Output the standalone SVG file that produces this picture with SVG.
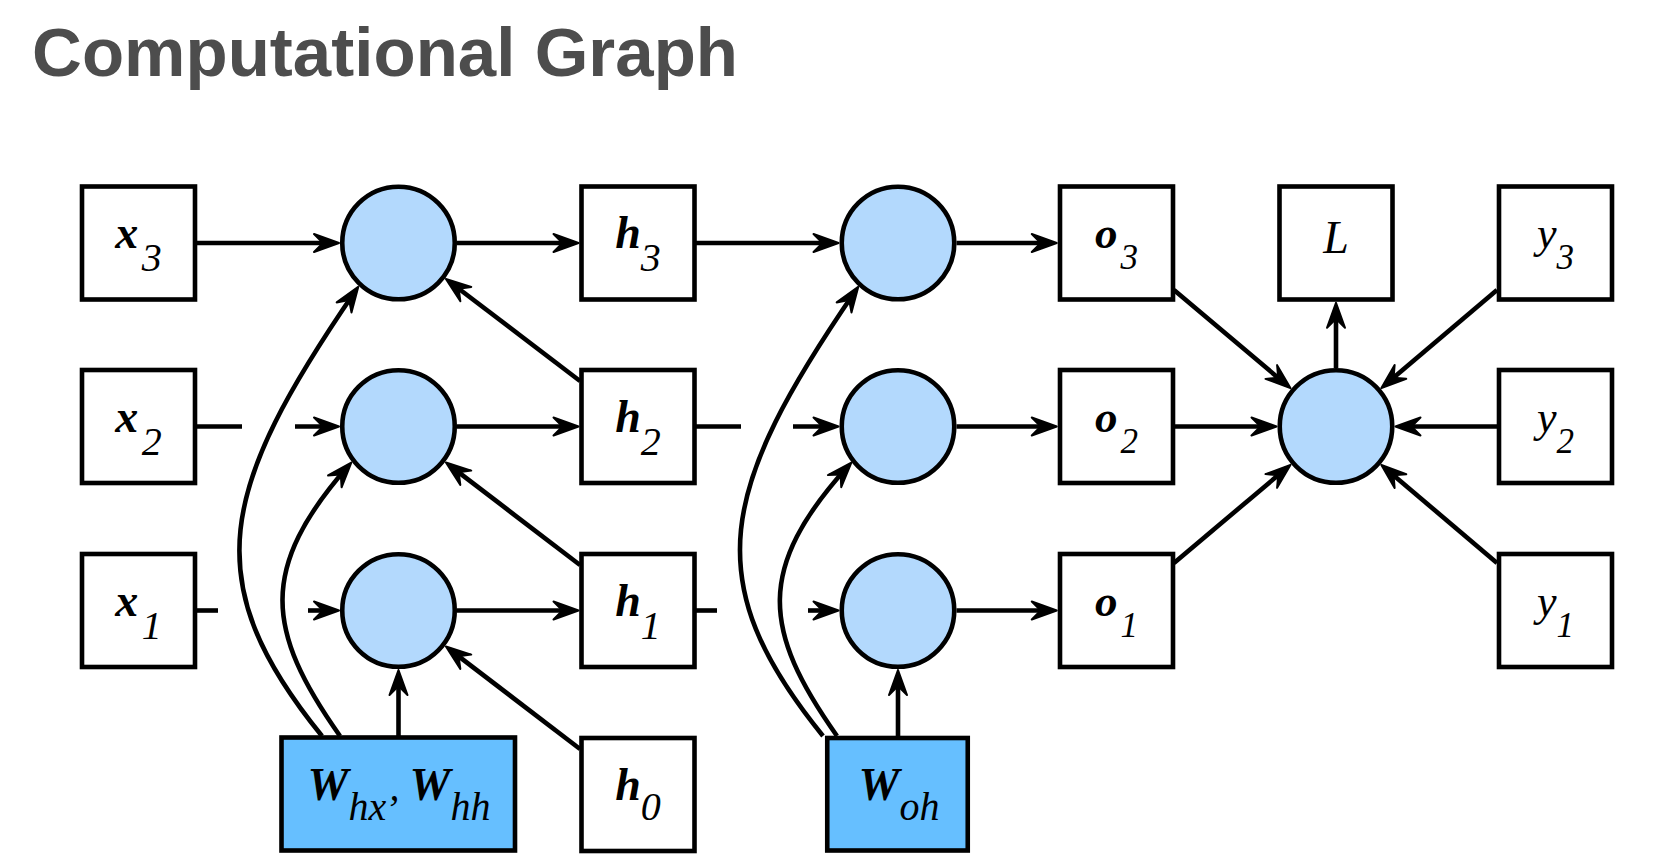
<svg xmlns="http://www.w3.org/2000/svg" width="1678" height="857" viewBox="0 0 1678 857">
<style>
.bg{fill:#ffffff}
.title{font-family:"Liberation Sans",Arial,sans-serif;font-weight:bold;font-size:69px;fill:#4d4d4d}
.box{fill:#ffffff;stroke:#000000;stroke-width:4.6}
.param{fill:#66bfff;stroke:#000000;stroke-width:4.6}
.op{fill:#b3d9fd;stroke:#000000;stroke-width:4.6}
.edge{fill:none;stroke:#000000;stroke-width:4.6;marker-end:url(#ah)}
.seg{fill:none;stroke:#000000;stroke-width:4.6}
text.lbl{font-family:"Liberation Serif","Times New Roman",serif;text-anchor:middle;fill:#000000}
.v{font-weight:bold;font-style:italic;font-size:46px}
.vs{font-weight:bold;font-style:italic;font-size:45px}
.s{font-style:italic;font-size:40px}
.ss{font-style:italic;font-size:35px}
.it{font-style:italic;font-size:44px}
.L{font-style:italic;font-size:46px}
</style>
<defs>
<marker id="ah" markerUnits="userSpaceOnUse" viewBox="-25 -13 35 26" markerWidth="35" markerHeight="26" refX="0" refY="0" orient="auto" overflow="visible">
<path d="M5,0 L-20,-9 L-11,0 L-20,9 Z" fill="#000000" stroke="#000000" stroke-width="2" stroke-linejoin="round"/>
</marker>
</defs>
<rect class="bg" x="0" y="0" width="1678" height="857"/>
<text class="title" x="32" y="76" textLength="706">Computational Graph</text>

<g id="connectors">
<path class="edge" d="M196 243 H334"/>
<path class="seg" d="M196 426.5 H242"/>
<path class="edge" d="M295 426.5 H334"/>
<path class="seg" d="M196 610.5 H218"/>
<path class="edge" d="M308 610.5 H334"/>
<path class="edge" d="M457 243 H573.5"/>
<path class="edge" d="M457 426.5 H573.5"/>
<path class="edge" d="M457 610.5 H573.5"/>
<path class="edge" d="M580 381 L449.9 282"/>
<path class="edge" d="M580 565 L449.9 465.6"/>
<path class="edge" d="M580 749 L449.9 649.6"/>
<path class="edge" d="M398.5 737 V675"/>
<path class="edge" d="M340 736 C265 630 259 568 348 466.3"/>
<path class="edge" d="M322 736 C196 581 219.6 488.8 355.4 291"/>
<path class="edge" d="M696 243 H833.5"/>
<path class="seg" d="M696 426.5 H741"/>
<path class="edge" d="M793 426.5 H833.5"/>
<path class="seg" d="M696 610.5 H717"/>
<path class="edge" d="M808 610.5 H833.5"/>
<path class="edge" d="M898 737 V675"/>
<path class="edge" d="M837 736 C762 630 756 568 848 466.3"/>
<path class="edge" d="M823 736 C697 581 719.6 488.8 855.4 291"/>
<path class="edge" d="M956.5 243 H1051.75"/>
<path class="edge" d="M956.5 426.5 H1051.75"/>
<path class="edge" d="M956.5 610.5 H1051.75"/>
<path class="edge" d="M1174 290 L1286.6 384.9"/>
<path class="edge" d="M1175 426.5 H1271.5"/>
<path class="edge" d="M1174 563 L1286.6 468.1"/>
<path class="edge" d="M1497 290 L1385.2 384.8"/>
<path class="edge" d="M1497 426.5 H1400.5"/>
<path class="edge" d="M1497 563 L1385.2 468.2"/>
<path class="edge" d="M1336 368 V307.75"/>
</g>

<g id="x3"><rect class="box" x="82" y="186.5" width="113" height="113"/>
<text class="lbl" x="138.5" y="248"><tspan class="v">x</tspan><tspan class="s" dy="23">&#8202;3</tspan></text></g>
<g id="x2"><rect class="box" x="82" y="370" width="113" height="113"/>
<text class="lbl" x="138.5" y="431.5"><tspan class="v">x</tspan><tspan class="s" dy="23">&#8202;2</tspan></text></g>
<g id="x1"><rect class="box" x="82" y="554" width="113" height="113"/>
<text class="lbl" x="138.5" y="615.5"><tspan class="v">x</tspan><tspan class="s" dy="23">&#8202;1</tspan></text></g>

<g id="op3a"><circle class="op" cx="398.5" cy="243" r="56.25"/></g>
<g id="op2a"><circle class="op" cx="398.5" cy="426.5" r="56.25"/></g>
<g id="op1a"><circle class="op" cx="398.5" cy="610.5" r="56.25"/></g>

<g id="h3"><rect class="box" x="581.5" y="186.5" width="113" height="113"/>
<text class="lbl" x="638" y="248"><tspan class="v">h</tspan><tspan class="s" dy="23">3</tspan></text></g>
<g id="h2"><rect class="box" x="581.5" y="370" width="113" height="113"/>
<text class="lbl" x="638" y="431.5"><tspan class="v">h</tspan><tspan class="s" dy="23">2</tspan></text></g>
<g id="h1"><rect class="box" x="581.5" y="554" width="113" height="113"/>
<text class="lbl" x="638" y="615.5"><tspan class="v">h</tspan><tspan class="s" dy="23">1</tspan></text></g>
<g id="h0"><rect class="box" x="581.5" y="738" width="113" height="113"/>
<text class="lbl" x="638" y="800"><tspan class="v">h</tspan><tspan class="s" dy="20">0</tspan></text></g>

<g id="Whx"><rect class="param" x="281.5" y="737.5" width="233.5" height="113"/>
<text class="lbl" x="399" y="800"><tspan class="v">W</tspan><tspan class="s" dy="20">hx</tspan><tspan class="s" dy="-20">&#8202;,&#160;</tspan><tspan class="v">W</tspan><tspan class="s" dy="20">hh</tspan></text></g>

<g id="op3b"><circle class="op" cx="898" cy="243" r="56.25"/></g>
<g id="op2b"><circle class="op" cx="898" cy="426.5" r="56.25"/></g>
<g id="op1b"><circle class="op" cx="898" cy="610.5" r="56.25"/></g>

<g id="Woh"><rect class="param" x="827.25" y="738" width="140.5" height="112.5"/>
<text class="lbl" x="899" y="800"><tspan class="v">W</tspan><tspan class="s" dy="20">oh</tspan></text></g>

<g id="o3"><rect class="box" x="1060" y="186.5" width="113" height="113"/>
<text class="lbl" x="1116.5" y="248"><tspan class="vs">o</tspan><tspan class="ss" dy="21">&#8202;3</tspan></text></g>
<g id="o2"><rect class="box" x="1060" y="370" width="113" height="113"/>
<text class="lbl" x="1116.5" y="431.5"><tspan class="vs">o</tspan><tspan class="ss" dy="21">&#8202;2</tspan></text></g>
<g id="o1"><rect class="box" x="1060" y="554" width="113" height="113"/>
<text class="lbl" x="1116.5" y="615.5"><tspan class="vs">o</tspan><tspan class="ss" dy="21">&#8202;1</tspan></text></g>

<g id="L"><rect class="box" x="1279.5" y="186.5" width="113" height="113"/>
<text class="lbl L" x="1336" y="253">L</text></g>
<g id="loss"><circle class="op" cx="1336" cy="426.5" r="56.25"/></g>

<g id="y3"><rect class="box" x="1499" y="186.5" width="113" height="113"/>
<text class="lbl" x="1555.5" y="248"><tspan class="it">y</tspan><tspan class="ss" dy="21">3</tspan></text></g>
<g id="y2"><rect class="box" x="1499" y="370" width="113" height="113"/>
<text class="lbl" x="1555.5" y="431.5"><tspan class="it">y</tspan><tspan class="ss" dy="21">2</tspan></text></g>
<g id="y1"><rect class="box" x="1499" y="554" width="113" height="113"/>
<text class="lbl" x="1555.5" y="615.5"><tspan class="it">y</tspan><tspan class="ss" dy="21">1</tspan></text></g>
</svg>
